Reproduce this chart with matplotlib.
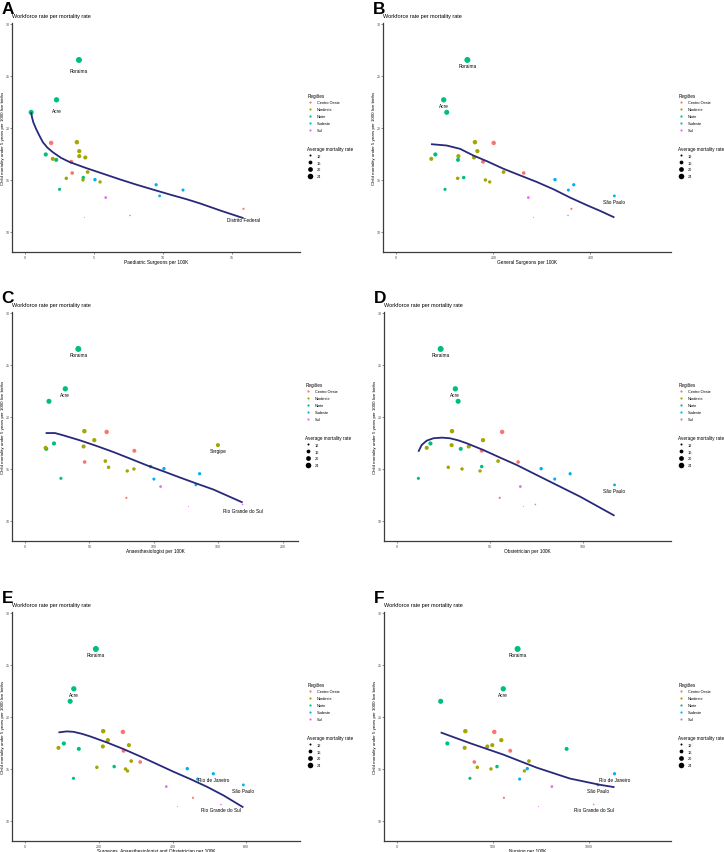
## Workforce rate per mortality rate - six scatter panels (A-F), each with its smooth trend line

import numpy as np
import matplotlib
matplotlib.use("Agg")
import matplotlib.pyplot as plt
from matplotlib.lines import Line2D

plt.rcParams['font.family'] = ['Liberation Sans', 'DejaVu Sans']

# --- data, one entry per state ---
states = ["Roraima", "Acre", "Amazonas", "Amapá", "Pará", "Tocantins", "Rondônia",
          "Maranhão", "Alagoas", "Sergipe", "Piauí", "Bahia", "Pernambuco", "Paraíba",
          "Ceará", "Rio Grande do Norte",
          "Mato Grosso", "Goiás", "Mato Grosso do Sul", "Distrito Federal",
          "Minas Gerais", "Rio de Janeiro", "Espírito Santo", "São Paulo",
          "Paraná", "Rio Grande do Sul", "Santa Catarina"]
regions = ["Norte"] * 7 + ["Nordeste"] * 9 + ["Centro Oeste"] * 4 + ["Sudeste"] * 4 + ["Sul"] * 3

child_mortality = [26.5, 22.67, 21.47, 17.42, 16.9, 15.2, 14.07,
                   18.6, 17.74, 17.26, 17.13, 17.0, 15.73, 15.13, 14.97, 14.78,
                   18.53, 16.72, 15.64, 12.2,
                   15.0, 14.51, 14.0, 13.44,
                   13.28, 11.56, 11.37]

paediatric = [3.91, 2.28, 0.44, 1.5, 2.26, 4.22, 2.5,
              3.76, 3.93, 3.93, 4.37, 2.01, 4.54, 2.99, 4.2, 5.44,
              1.89, 3.35, 3.42, 15.85,
              5.07, 9.51, 11.46, 9.76,
              5.85, 7.62, 4.32]
general = [146.4, 97.6, 103.8, 80.4, 127.1, 138.8, 100.3,
           162, 167, 127.8, 160, 72, 221, 126.4, 183.5, 192.4,
           200.6, 178.6, 262.5, 360.7,
           327, 365.6, 354.6, 449.3,
           272, 353.8, 282.4]
anaesth = [41.4, 31.3, 18.6, 22.5, 16.5, 97.5, 27.9,
           46.1, 53.8, 149.8, 45.5, 16.0, 62.4, 64.9, 84.6, 79.4,
           63.4, 84.9, 46.3, 78.7,
           107.9, 135.6, 100.1, 132.7,
           105.3, 169, 127]
obstetric = [23.5, 31.4, 32.9, 18.0, 34.3, 45.6, 11.5,
             29.6, 46.3, 29.4, 38.6, 16.0, 54.4, 27.6, 35.0, 44.7,
             56.6, 45.6, 65.2, 55.3,
             77.6, 93.2, 84.9, 117.1,
             66.4, 74.5, 68.0]
combined = [191.9, 132.1, 122.2, 105, 145.7, 241.6, 131.2,
            211.8, 224.4, 281.5, 210.9, 90.5, 287.8, 194.6, 272.4, 277.8,
            265.2, 267, 312.2, 455.2,
            439.8, 510.4, 467.9, 591.9,
            382.8, 531.2, 413.6]
nursing = [628.5, 553.8, 227.4, 262.2, 884, 521, 380,
           355.9, 543.4, 496.5, 470.5, 352.4, 687.5, 418.4, 489.6, 664,
           506.9, 590, 402.8, 557,
           678.8, 1133.6, 638.9, 1047,
           807, 1025, 737.8]

# smooth trend lines
smooth_A_x = [0.44, 0.5, 0.6, 0.8, 1.05, 1.29, 1.6, 2.01, 2.6, 3.23, 4.44, 5.66, 6.87, 8.08,
              9.3, 10.51, 11.72, 12.69, 14.2, 15.85]
smooth_A_y = [21.47, 21.0, 20.5, 19.87, 19.2, 18.6, 18.1, 17.64, 17.1, 16.69, 16.11, 15.57,
              15.03, 14.52, 14.04, 13.57, 13.12, 12.72, 12.02, 11.3]
smooth_B_x = [71.5, 103.8, 131.3, 158.8, 186.3, 220.6, 255, 289.4, 323.7, 358, 392.5, 420, 449.3]
smooth_B_y = [18.41, 18.28, 17.96, 17.32, 16.78, 16.05, 15.41, 14.78, 14.08, 13.28, 12.55, 12.0, 11.37]
smooth_C_x = [16.0, 23.3, 29.8, 42.7, 55.6, 68.6, 81.5, 94.4, 107.4, 120.3, 133.2, 146.2, 169]
smooth_C_y = [18.42, 18.42, 18.2, 17.72, 17.18, 16.6, 15.97, 15.33, 14.75, 14.15, 13.57, 13.0, 11.75]
smooth_D_x = [11.5, 13.3, 16.0, 19.6, 24.1, 28.5, 33.0, 37.5, 46.5, 55.5, 64.5, 73.4, 82.4,
              91.4, 98.6, 117.1]
smooth_D_y = [16.63, 17.28, 17.69, 17.92, 17.98, 17.92, 17.72, 17.44, 16.79, 16.06, 15.35,
              14.55, 13.75, 12.95, 12.31, 10.48]
smooth_E_x = [90.5, 113.1, 131.2, 153.9, 176.5, 221.7, 267, 312.2, 357.5, 402.7, 448, 493.2,
              538.5, 591.9]
smooth_E_y = [18.48, 18.58, 18.54, 18.35, 18.1, 17.52, 16.88, 16.18, 15.44, 14.7, 14.0, 13.26,
              12.42, 11.28]
smooth_F_x = [227.4, 380.2, 553.8, 727.4, 901, 1057, 1133.6]
smooth_F_y = [18.48, 17.45, 16.35, 15.1, 14.05, 13.45, 13.22]

region_names = ["Centro Oeste", "Nordeste", "Norte", "Sudeste", "Sul"]
region_colors = ["#F8766D", "#A3A500", "#00BF7D", "#00B0F6", "#E76BF3"]
size_breaks = [12, 16, 20, 24]

W, H = 724, 853
fig = plt.figure(figsize=(W / 100, H / 100), dpi=100)

y = np.array(child_mortality)
ymin, ymax = y.min(), y.max()


def diam_px(v):
    # ggplot style area scale, range 1..6 px
    return 1.0 + 5.0 * np.sqrt(np.clip((np.asarray(v, float) - ymin) / (ymax - ymin), 0, 1))


# letter, x data, smooth line, x label, box (left, top, right, bottom px), xlim, xticks,
# labelled states, label offset px
panels = [
    ("A", paediatric, (smooth_A_x, smooth_A_y), "Paediatric Surgeons per 100K",
     (12, 24, 300, 253), (-0.95, 19.95), [0, 5, 10, 15],
     ["Roraima", "Acre", "Distrito Federal"], 10.5),
    ("B", general, (smooth_B_x, smooth_B_y), "General Surgeons per 100K",
     (383, 24, 671, 253), (-27.5, 566), [0, 200, 400],
     ["Roraima", "Acre", "São Paulo"], 5.5),
    ("C", anaesth, (smooth_C_x, smooth_C_y), "Anaesthesiologist per 100K",
     (12, 313, 298, 542), (-10.1, 212), [0, 50, 100, 150, 200],
     ["Roraima", "Acre", "Sergipe", "Rio Grande do Sul"], 5.7),
    ("D", obstetric, (smooth_D_x, smooth_D_y), "Obstetrician per 100K",
     (384, 313, 671, 542), (-7, 147.5), [0, 50, 100],
     ["Roraima", "Acre", "São Paulo"], 5.7),
    ("E", combined, (smooth_E_x, smooth_E_y), "Surgeons, Anaesthesiologist and Obstetrician per 100K",
     (12, 613, 300, 842), (-35.5, 745.5), [0, 200, 400, 600],
     ["Roraima", "Acre", "Rio de Janeiro", "São Paulo", "Rio Grande do Sul"], 5.5),
    ("F", nursing, (smooth_F_x, smooth_F_y), "Nursing per 100K",
     (384, 613, 671, 842), (-68, 1428), [0, 500, 1000],
     ["Roraima", "Acre", "Rio de Janeiro", "São Paulo", "Rio Grande do Sul"], 5.5),
]

axis_col = "#3c3c3c"

for letter, xvals, smooth, xlab, box, xlim, xticks, labelled, off in panels:
    l, t, r, b = box
    aw, ah = r - l, b - t
    ax = fig.add_axes([l / W, 1 - b / H, aw / W, ah / H])
    x = np.array(xvals)

    cols = [region_colors[region_names.index(rg)] for rg in regions]
    ax.scatter(x, y, s=(diam_px(y) * 0.72) ** 2, c=cols, linewidths=0, zorder=3)

    ax.plot(smooth[0], smooth[1], color="#28297a", lw=1.3, zorder=4,
            solid_capstyle="butt", solid_joinstyle="round")

    for name in labelled:
        i = states.index(name)
        ax.annotate(name, (x[i], y[i]), xytext=(0, -off * 0.72), textcoords="offset points",
                    ha="center", va="center", fontsize=3.4, zorder=5)

    ax.set_xlim(*xlim)
    ax.set_ylim(8.05, 30.05)
    ax.set_xticks(xticks)
    ax.set_yticks([10, 15, 20, 25, 30])
    for s in ["top", "right"]:
        ax.spines[s].set_visible(False)
    for s in ["left", "bottom"]:
        ax.spines[s].set_color(axis_col)
        ax.spines[s].set_linewidth(0.9)
    ax.tick_params(labelsize=2.6, length=1.3, width=0.4, pad=0.6, colors=axis_col, labelcolor="#4d4d4d")

    ax.set_xlabel(xlab, fontsize=3.45)
    ax.xaxis.set_label_coords(0.5, -9.3 / ah)
    ax.xaxis.label.set_va("center")
    ax.set_ylabel("Child mortality under 5 years per 1000 live births", fontsize=3.2)
    ax.yaxis.set_label_coords(-9.3 / aw, 0.5)
    ax.yaxis.label.set_va("center")

    ax.text(0, 1 + 7.3 / ah, "Workforce rate per mortality rate", transform=ax.transAxes,
            ha="left", va="center", fontsize=4.0)

    fig.text((l - 10.5) / W, 1 - (t - 10) / H, letter, fontsize=12.4, fontweight="bold",
             ha="left", va="baseline")

    # legends
    h1 = [Line2D([], [], ls="none", marker="o", ms=2.2 * 0.72, color=c, mec="none")
          for c in region_colors]
    leg1 = ax.legend(h1, region_names, title="Regiões", loc="upper left",
                     bbox_to_anchor=(1 + 7.3 / aw, 0.6965), frameon=False, fontsize=2.8,
                     title_fontsize=3.3, borderpad=0, borderaxespad=0, handlelength=1.4,
                     handletextpad=1.0, labelspacing=0.75)
    leg1._legend_box.align = "left"
    ax.add_artist(leg1)
    h2 = [Line2D([], [], ls="none", marker="o", ms=diam_px(v) * 0.72, color="black", mec="none")
          for v in size_breaks]
    leg2 = ax.legend(h2, [str(v) for v in size_breaks], title="Average mortality rate",
                     loc="upper left", bbox_to_anchor=(1 + 7.3 / aw, 0.464), frameon=False,
                     fontsize=2.8, title_fontsize=3.3, borderpad=0, borderaxespad=0,
                     handlelength=1.4, handletextpad=1.0, labelspacing=0.75)
    leg2._legend_box.align = "left"

fig.savefig("out.png", dpi=100)
